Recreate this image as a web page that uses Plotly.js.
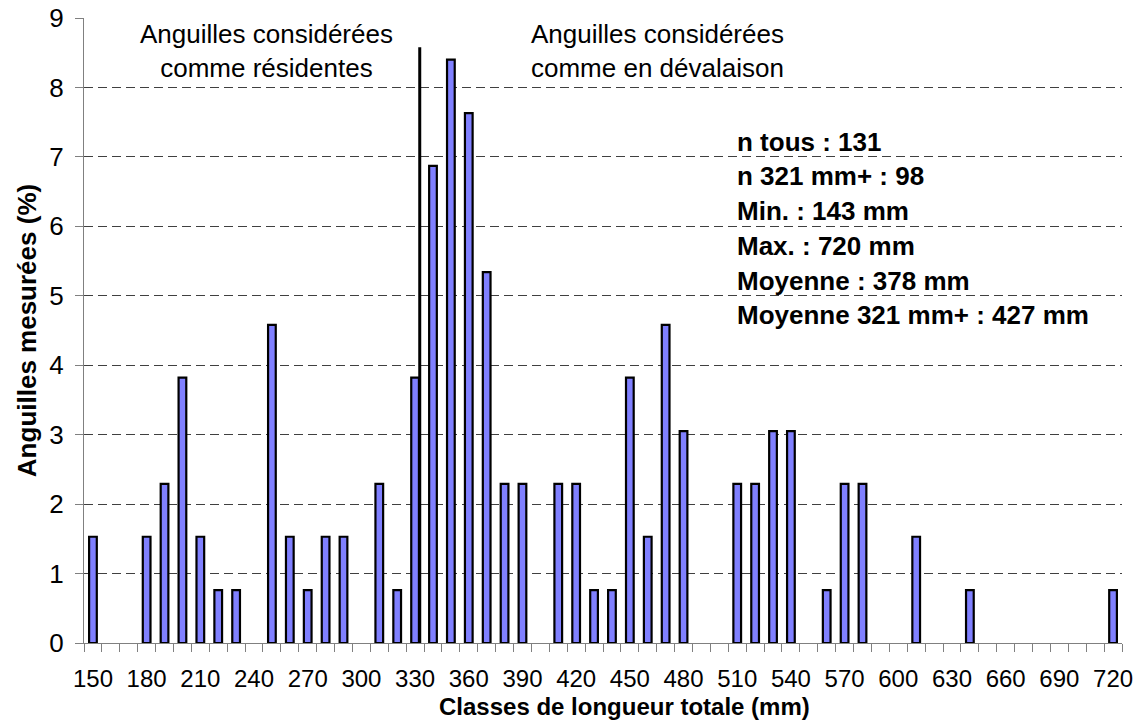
<!DOCTYPE html>
<html>
<head>
<meta charset="utf-8">
<script src="https://cdn.plot.ly/plotly-3.0.1.min.js"></script>
<style>html,body{margin:0;padding:0;background:#fff;}#chart{width:1141px;height:726px;}</style>
</head>
<body>
<div id="chart"></div>
<script>
// Length classes (mm)
const classes = [150,160,170,180,190,200,210,220,230,240,250,260,270,280,290,300,310,320,330,340,
                 350,360,370,380,390,400,410,420,430,440,450,460,470,480,490,500,510,520,530,540,
                 550,560,570,580,590,600,610,620,630,640,650,660,670,680,690,700,710,720];
// Percentage of measured eels per class
const percent = [1.53,0,0,1.53,2.29,3.82,1.53,0.76,0.76,0,4.58,1.53,0.76,1.53,1.53,0,2.29,0.76,3.82,6.87,
                 8.40,7.63,5.34,2.29,2.29,0,2.29,2.29,0.76,0.76,3.82,1.53,4.58,3.05,0,0,2.29,2.29,3.05,3.05,
                 0,0.76,2.29,2.29,0,0,1.53,0,0,0.76,0,0,0,0,0,0,0,0.76];
const tickLabels = [150,180,210,240,270,300,330,360,390,420,450,480,510,540,570,600,630,660,690,720];
const yTicks = [0,1,2,3,4,5,6,7,8,9];
const separator = {x: 332.6, top: 8.58};
const statsLines = ["n tous : 131","n 321 mm+ : 98","Min. : 143 mm","Max. : 720 mm","Moyenne : 378 mm","Moyenne 321 mm+ : 427 mm"];
const groupLabels = ["Anguilles considérées<br>comme résidentes","Anguilles considérées<br>comme en dévalaison"];
const xTitle = "Classes de longueur totale (mm)";
const yTitle = "Anguilles mesurées (%)";

const FONT = "'Liberation Sans', Arial, sans-serif";
const W = 1141, H = 726;
const L = 83.5, R = 19.3, T = 18.3, B = 82.7;
const pw = W - L - R, ph = H - T - B;
const px2paperX = p => (p - L) / pw;
const px2paperY = p => (H - B - p) / ph;

const trace = {
  type: 'bar',
  x: classes,
  y: percent.map(v => (v === 0 ? null : v)),
  width: 4.3,
  marker: {color: '#8080ff', line: {color: '#000000', width: 2.2}},
  hoverinfo: 'x+y'
};

const annotations = [];
annotations.push({xref:'paper', yref:'paper', x:px2paperX(266), y:px2paperY(51), xanchor:'center', yanchor:'middle',
  text: groupLabels[0], showarrow:false, align:'center', font:{family:FONT, size:26, color:'#000'}});
annotations.push({xref:'paper', yref:'paper', x:px2paperX(657), y:px2paperY(51), xanchor:'center', yanchor:'middle',
  text: groupLabels[1], showarrow:false, align:'center', font:{family:FONT, size:26, color:'#000'}});
statsLines.forEach((s, i) => {
  annotations.push({xref:'paper', yref:'paper', x:px2paperX(735), y:px2paperY(142 + i*34.7), xanchor:'left', yanchor:'middle',
    text: '<b>' + s + '</b>', showarrow:false, align:'left', font:{family:FONT, size:26, color:'#000'}});
});
// x-axis title placed precisely
annotations.push({xref:'paper', yref:'paper', x:px2paperX(624), y:px2paperY(707), xanchor:'center', yanchor:'middle',
  text: '<b>' + xTitle + '</b>', showarrow:false, borderpad:0, font:{family:FONT, size:24, color:'#000'}});

const shapes = [
  {type:'rect', xref:'paper', yref:'paper', layer:'between',
   x0:px2paperX(730), x1:px2paperX(943), y0:px2paperY(166), y1:px2paperY(130),
   fillcolor:'#ffffff', line:{width:0}},
  {type:'rect', xref:'paper', yref:'paper', layer:'between',
   x0:px2paperX(730), x1:1, y0:px2paperY(335), y1:px2paperY(165),
   fillcolor:'#ffffff', line:{width:0}},
  {type:'line', xref:'x', yref:'y', layer:'above',
   x0:separator.x, x1:separator.x, y0:-0.03, y1:separator.top,
   line:{color:'#000000', width:3}}
];

const layout = {
  width: W, height: H,
  margin: {l:L, r:R, t:T, b:B, pad:0},
  paper_bgcolor:'#ffffff', plot_bgcolor:'#ffffff',
  showlegend:false,
  font:{family:FONT, color:'#000'},
  xaxis: {
    range:[145, 725], fixedrange:true,
    tickmode:'array', tickvals: tickLabels, ticktext: tickLabels.map(String),
    ticks:'', showgrid:false, zeroline:false,
    showline:true, linecolor:'#808080', linewidth:1,
    tickfont:{family:FONT, size:24, color:'#000'},
    ticklabelstandoff: 14,
    minor:{ticks:'outside', tick0:145, dtick:10, ticklen:8, tickcolor:'#808080', tickwidth:1, showgrid:false},
    automargin:false
  },
  yaxis: {
    range:[0, 9], fixedrange:true,
    tickmode:'array', tickvals: yTicks, ticktext: yTicks.map(String),
    ticks:'outside', ticklen:8, tickcolor:'#808080', tickwidth:1,
    showline:true, linecolor:'#808080', linewidth:1,
    showgrid:true, gridcolor:'#404040', gridwidth:1, griddash:'9px,5px',
    zeroline:false,
    tickfont:{family:FONT, size:26, color:'#000'},
    ticklabelstandoff: 6,
    title:{text:'<b>' + yTitle + '</b>', font:{family:FONT, size:26, color:'#000'}, standoff:5},
    automargin:false
  },
  annotations: annotations,
  shapes: shapes
};

Plotly.newPlot('chart', [trace], layout, {displayModeBar:false, staticPlot:true});
</script>
</body>
</html>
